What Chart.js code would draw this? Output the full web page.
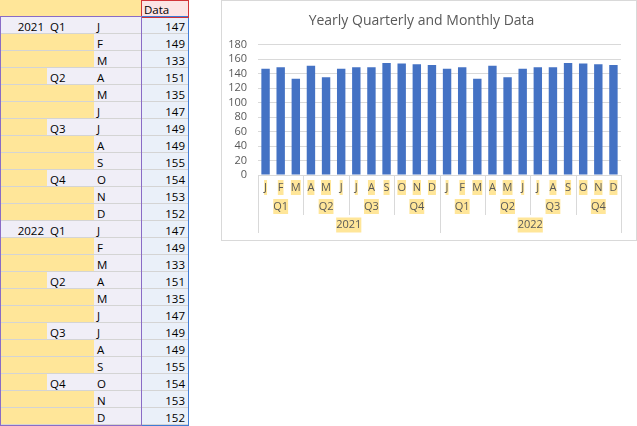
<!DOCTYPE html>
<html>
<head>
<meta charset="utf-8">
<script src="https://cdn.jsdelivr.net/npm/chart.js@4"></script>
<style>
body { margin: 0; background: #fff; font-family: "Open Sans", sans-serif; }
#sheet { position: absolute; left: 0; top: 0; width: 190px; height: 426px; }
.cell { position: absolute; box-sizing: border-box; border-right: 1px solid #d4d4d4; border-bottom: 1px solid #d4d4d4;
        font-size: 11.5px; line-height: 17px; padding: 1px 3px 0 3px; color: #000; white-space: nowrap; overflow: hidden; }
.box { position: absolute; box-sizing: border-box; }
#chartBox { position: absolute; left: 221px; top: 0; width: 416px; height: 241px; box-sizing: border-box; border: 1px solid #d9d9d9; }
</style>
</head>
<body>
<div id="sheet"></div>
<div id="chartBox"><canvas id="barChart" width="414" height="239"></canvas></div>
<script>
var years = ['2021', '2022'];
var quarters = ['Q1', 'Q2', 'Q3', 'Q4'];
var months = ['J', 'F', 'M', 'A', 'M', 'J', 'J', 'A', 'S', 'O', 'N', 'D'];
var values = [147, 149, 133, 151, 135, 147, 149, 149, 155, 154, 153, 152,
              147, 149, 133, 151, 135, 147, 149, 149, 155, 154, 153, 152];
var header = ['', '', '', 'Data'];

var YELLOW = '#ffe699';
var LAVENDER = '#f0eef7';
var LIGHTBLUE = '#eaf0f9';

// spreadsheet on the left
function addCell(sheet, x, y, w, text, bg, align) {
    var d = document.createElement('div');
    d.className = 'cell';
    d.style.left = x + 'px';
    d.style.top = y + 'px';
    d.style.width = w + 'px';
    d.style.height = '17px';
    d.style.background = bg;
    d.style.textAlign = align;
    d.textContent = text;
    sheet.appendChild(d);
}

function addBox(sheet, x, y, w, h, color) {
    var b = document.createElement('div');
    b.className = 'box';
    b.style.left = x + 'px';
    b.style.top = y + 'px';
    b.style.width = w + 'px';
    b.style.height = h + 'px';
    b.style.border = '1px solid ' + color;
    sheet.appendChild(b);
}

function buildSheet() {
    var sheet = document.getElementById('sheet');
    var cols = [0, 47, 94, 141, 188];
    for (var c = 0; c < 4; c++) {
        addCell(sheet, cols[c], 0, cols[c + 1] - cols[c] + 1, header[c], c < 3 ? YELLOW : '#fce4e4', 'left');
    }
    for (var i = 0; i < values.length; i++) {
        var y = 17 + i * 17;
        var yr = (i % 12 == 0) ? years[i / 12] : '';
        var q = (i % 3 == 0) ? quarters[(i % 12) / 3] : '';
        addCell(sheet, cols[0], y, 48, yr, yr ? LAVENDER : YELLOW, 'right');
        addCell(sheet, cols[1], y, 48, q, q ? LAVENDER : YELLOW, 'left');
        addCell(sheet, cols[2], y, 48, months[i % 12], LAVENDER, 'left');
        addCell(sheet, cols[3], y, 48, values[i].toString(), LIGHTBLUE, 'right');
    }
    addBox(sheet, 141, 16, 48, 410, '#3f7bd6');
    addBox(sheet, 141, 0, 48, 18, '#d13438');
    addBox(sheet, 0, 16, 142, 410, '#8a6cc6');
}

// multi level category axis drawn under the plot
function drawLabel(ctx, text, x, y) {
    var w = ctx.measureText(text).width;
    ctx.fillStyle = YELLOW;
    ctx.fillRect(x - w / 2, y - 7.5, w, 15);
    ctx.fillStyle = '#595959';
    ctx.fillText(text, x, y);
}

var groupAxis = {
    id: 'groupAxis',
    afterDraw: function(chart) {
        var ctx = chart.ctx;
        var xs = chart.scales.x;
        var bottom = chart.chartArea.bottom;
        var n = values.length;
        var w = xs.width / n;
        ctx.save();
        ctx.font = '11px "Open Sans"';
        ctx.textAlign = 'center';
        ctx.textBaseline = 'middle';
        for (var i = 0; i < n; i++) {
            drawLabel(ctx, months[i % 12], xs.getPixelForValue(i), bottom + 12.5);
        }
        for (var q = 0; q < n / 3; q++) {
            var mid = (xs.getPixelForValue(q * 3) + xs.getPixelForValue(q * 3 + 2)) / 2;
            drawLabel(ctx, quarters[q % 4], mid, bottom + 31.5);
        }
        for (var y = 0; y < years.length; y++) {
            var mid2 = (xs.getPixelForValue(y * 12) + xs.getPixelForValue(y * 12 + 11)) / 2;
            drawLabel(ctx, years[y], mid2, bottom + 50);
        }
        ctx.strokeStyle = '#d9d9d9';
        ctx.lineWidth = 1;
        for (var k = 0; k <= n; k += 3) {
            var x = Math.round(xs.getPixelForValue(0) - w / 2 + k * w) + 0.5;
            var len = (k % 12 == 0) ? 58 : 40;
            ctx.beginPath();
            ctx.moveTo(x, bottom);
            ctx.lineTo(x, bottom + len);
            ctx.stroke();
        }
        ctx.restore();
    }
};

function createChart() {
    var ctx = document.getElementById('barChart').getContext('2d');
    var labels = [];
    for (var i = 0; i < values.length; i++) {
        labels[i] = months[i % 12];
    }
    var chart = new Chart(ctx, {
        type: 'bar',
        data: {
            labels: labels,
            datasets: [{
                label: 'Data',
                data: values,
                backgroundColor: '#4472c4',
                barPercentage: 0.556,
                categoryPercentage: 1
            }]
        },
        options: {
            responsive: false,
            animation: false,
            layout: { padding: { left: 0, right: 15, top: 0, bottom: 0 } },
            plugins: {
                legend: { display: false },
                tooltip: { enabled: false },
                title: {
                    display: true,
                    text: 'Yearly Quarterly and Monthly Data',
                    color: '#595959',
                    font: { family: 'Open Sans', size: 14, weight: 'normal' },
                    padding: { top: 12, bottom: 15 }
                }
            },
            scales: {
                x: {
                    grid: { display: false },
                    border: { display: false },
                    ticks: { display: false },
                    afterFit: function(scale) { scale.height = 65; }
                },
                y: {
                    min: 0,
                    max: 180,
                    ticks: {
                        stepSize: 20,
                        autoSkip: false,
                        color: '#595959',
                        padding: 11,
                        font: { family: 'Open Sans', size: 11 }
                    },
                    grid: { color: '#d9d9d9', drawTicks: false },
                    border: { display: false },
                    afterFit: function(scale) { scale.width = 36; }
                }
            }
        },
        plugins: [groupAxis]
    });
    return chart;
}

buildSheet();
var chart = createChart();
</script>
</body>
</html>
